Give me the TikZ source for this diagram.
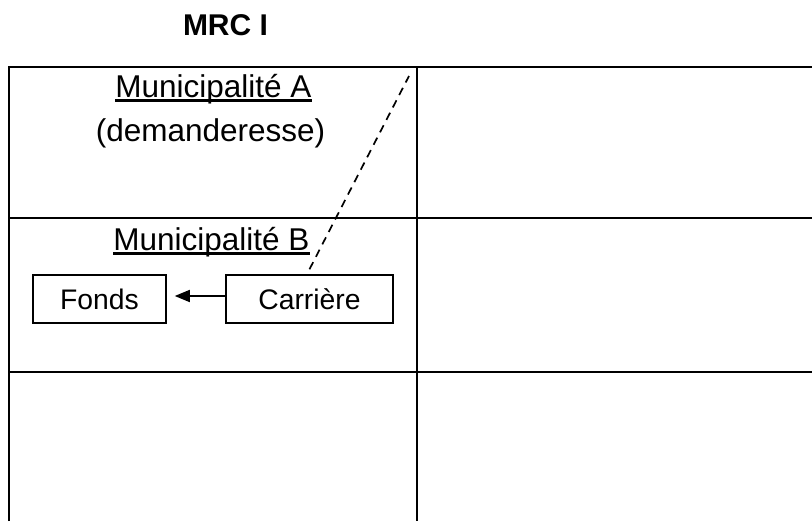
\documentclass[tikz,border=0pt]{standalone}
\usepackage{fontspec}
\setmainfont{Liberation Sans}
\usetikzlibrary{arrows.meta}

\tikzset{
  grid line/.style={line width=2.4pt},
  cell text/.style={inner sep=0pt, anchor=base, font=\fontsize{31.5}{36}\selectfont},
  cell box/.style={draw, line width=1.5pt, inner sep=0pt, minimum height=48pt,
    font=\fontsize{28.3}{32}\selectfont},
  flow/.style={line width=1.6pt, -{Triangle[length=15pt,width=12pt]}},
  guide/.style={line width=1.7pt, dash pattern=on 8pt off 6pt}
}

\begin{document}
\begin{tikzpicture}[x=1pt, y=-1pt]
   \def\xl{9};
   \def\xm{417};
   \def\xr{812};
   \def\ya{67};
   \def\yb{218};
   \def\yc{372};
   \def\yd{521};
   \useasboundingbox (0,0) rectangle (812,523);
   \node[cell text, font=\fontsize{30}{34}\selectfont\bfseries] (title) at (225.5,35) {MRC I};
   % table
   \draw[grid line] (\xl,\yd) -- (\xl,\ya) -- (\xr,\ya);   % left and top
   \draw[grid line] (\xm,\ya) -- (\xm,\yd);   % middle
   \draw[grid line] (\xl,\yb) -- (\xr,\yb);
   \draw[grid line] (\xl,\yc) -- (\xr,\yc);
   % municipalities
   \node[cell text] (munA) at (213.5,97) {Municipalité A};
   \node[cell text] (demande) at (210.5,141) {(demanderesse)};
   \node[cell text] (munB) at (211.5,250) {Municipalité B};
   \draw[line width=2.2pt] ([yshift=-3.5pt]munA.base west) -- ([yshift=-3.5pt]munA.base east);
   \draw[line width=2.2pt] ([yshift=-3.5pt]munB.base west) -- ([yshift=-3.5pt]munB.base east);
   % boxes
   \node[cell box, minimum width=133pt] (fonds) at (99.5,299) {Fonds};
   \node[cell box, minimum width=167pt] (carriere) at (309.5,299) {Carrière};
   \draw[flow, shorten >=8pt] ([yshift=3pt]carriere.west) -- ([yshift=3pt]fonds.east);
   \coordinate (guidetop) at (409,76);
   \draw[guide] ([yshift=5pt]carriere.north) -- (guidetop);
\end{tikzpicture}
\end{document}
